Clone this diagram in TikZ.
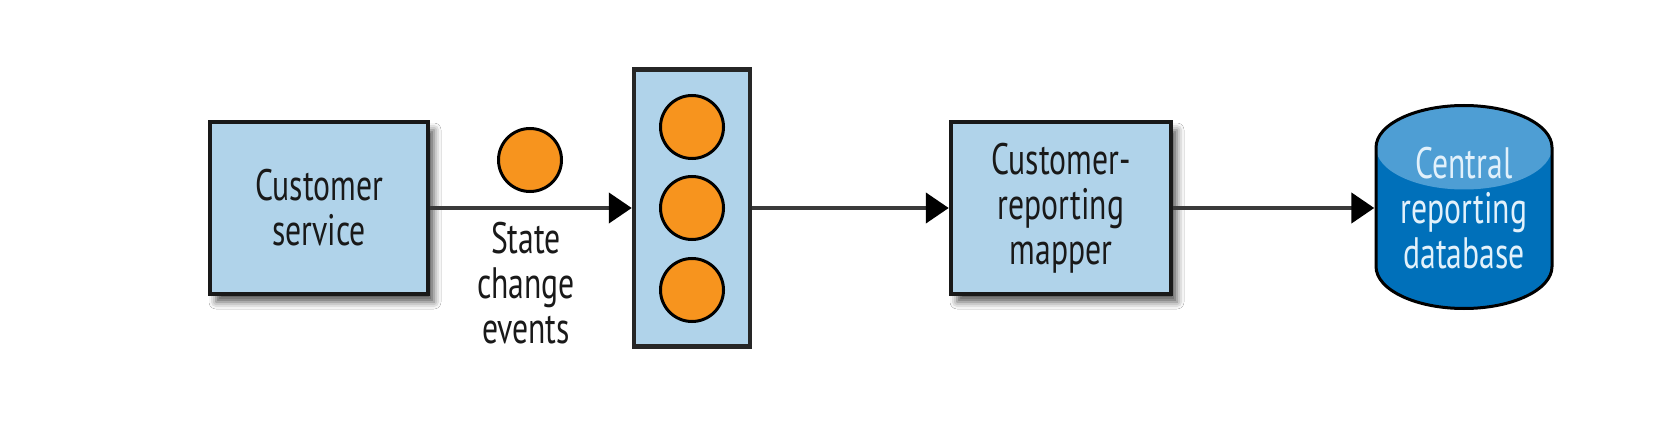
\documentclass[tikz,border=0pt]{standalone}
\usepackage{fontspec}
\setmainfont{PT Sans}[FakeStretch=0.72]
\usetikzlibrary{arrows.meta,shadows.blur}
\definecolor{boxblue}{HTML}{B0D3EA}
\definecolor{evorange}{HTML}{F7941E}
\definecolor{dbtop}{HTML}{4E9ED4}
\definecolor{dbside}{HTML}{0070BA}
\definecolor{dbtext}{HTML}{E2F1FB}
\definecolor{linegray}{HTML}{3A3A3A}
\tikzset{
  lbl/.style={font=\fontsize{44}{45}\selectfont, align=center, text=black!90},
  svcbox/.style={draw=black!90, line width=4.5pt, fill=boxblue, inner sep=0pt,
    blur shadow={shadow xshift=6pt, shadow yshift=-8pt, shadow blur radius=7pt, shadow opacity=65}},
  queuebox/.style={draw=black!85, line width=4.5pt, fill=boxblue, inner sep=0pt},
  evt/.style={circle, draw=black, line width=3pt, fill=evorange, minimum size=63pt, inner sep=0pt},
  flow/.style={draw=linegray, line width=4.5pt, -{Triangle[length=23pt,width=30pt,color=black]}},
}
\begin{document}
\begin{tikzpicture}[x=1pt,y=-1pt]
\fill[white] (0,0) rectangle (1672,430);
\useasboundingbox (0,0) rectangle (1672,430);

% Customer service box
\node[svcbox, minimum width=218pt, minimum height=172pt, lbl] (cs) at (319,208) {Customer\\service};

% single event
\node[evt] (ev) at (530,160) {};
\node[lbl, anchor=north, inner sep=0pt] (evlbl) at (526,222) {State\\change\\events};

% queue
\node[queuebox, minimum width=116pt, minimum height=277pt] (queue) at (692,208) {};
\node[evt] (q1) at (692,127) {};
\node[evt] (q2) at (692,208) {};
\node[evt] (q3) at (692,290) {};

% mapper
\node[svcbox, minimum width=220pt, minimum height=172pt, lbl] (map) at (1061,208) {Customer-\\reporting\\mapper};

% database cylinder
\fill[dbside] (1376,147.5) -- (1376,266.5) arc[start angle=180, end angle=0, x radius=88, y radius=42] -- (1552,147.5) -- cycle;
\fill[dbtop] (1464,147.5) ellipse[x radius=88, y radius=42];
\draw[black, line width=3pt] (1376,147.5) arc[start angle=180, end angle=360, x radius=88, y radius=42]
  -- (1552,266.5) arc[start angle=0, end angle=180, x radius=88, y radius=42] -- cycle;
\node[lbl, text=dbtext, minimum width=179pt, minimum height=206pt, inner sep=0pt] (db) at (1464,208) {Central\\reporting\\database};

% connectors
\draw[flow] (cs.east) -- (queue.west);
\draw[flow] (queue.east) -- (map.west);
\draw[flow] (map.east) -- (db.west);
\end{tikzpicture}
\end{document}
